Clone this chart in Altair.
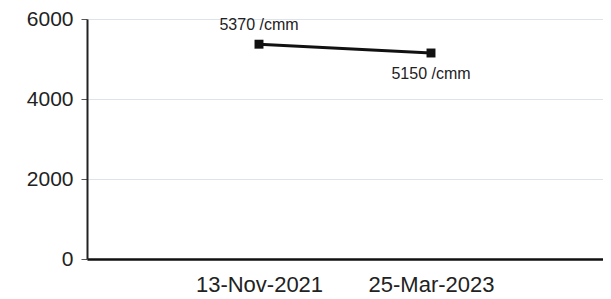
import altair as alt
import pandas as pd

dates = ["13-Nov-2021", "25-Mar-2023"]
values = [5370, 5150]
labels = ["5370 /cmm", "5150 /cmm"]
y_ticks = [0, 2000, 4000, 6000]

df = pd.DataFrame({"date": dates, "value": values, "label": labels})

FONT = "Liberation Sans"

x = alt.X("date:N", sort=dates, scale=alt.Scale(type="point", padding=1),
          axis=alt.Axis(title=None, labelAngle=0, labelFontSize=22, labelFont=FONT,
                        labelColor="#222", labelPadding=15, ticks=False,
                        domainColor="#111", domainWidth=2.5, grid=False))
y = alt.Y("value:Q", scale=alt.Scale(domain=[0, 6000], nice=False),
          axis=alt.Axis(title=None, values=y_ticks, format="d", labelFontSize=21,
                        labelFont=FONT, labelColor="#222", labelPadding=8, tickSize=6,
                        tickColor="#555", domainColor="#222", domainWidth=2, grid=True,
                        gridColor="#dde3ea", gridWidth=1))

base = alt.Chart(df)
line = base.mark_line(color="#111", strokeWidth=3).encode(x=x, y=y)
pts = base.mark_square(color="#111", size=80, opacity=1).encode(x=x, y=y)
t1 = base.transform_filter(alt.datum.date == dates[0]).mark_text(
    font=FONT, fontSize=16, color="#222", dy=-14, baseline="alphabetic").encode(
    x=x, y=y, text="label:N")
t2 = base.transform_filter(alt.datum.date == dates[1]).mark_text(
    font=FONT, fontSize=16, color="#222", dy=26, baseline="alphabetic").encode(
    x=x, y=y, text="label:N")

chart = alt.layer(line, pts, t1, t2).properties(
    width=516, height=240,
    autosize=alt.AutoSizeParams(type="none"),
    padding={"left": 79, "top": 11, "right": 0, "bottom": 40},
).configure_view(stroke=None)

chart.save("out.html", embed_options={"renderer": "svg", "actions": False})
